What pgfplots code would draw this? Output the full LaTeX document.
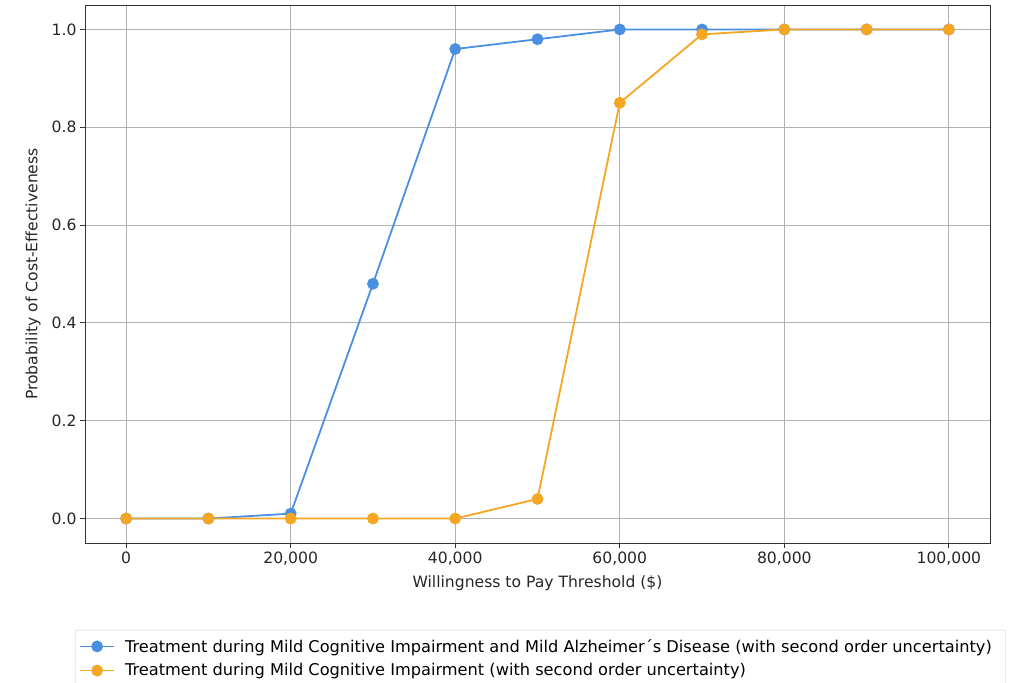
\documentclass[border=0pt]{standalone}
\usepackage{fontspec}
\setmainfont{DejaVu Sans}
\usepackage{pgfplots}
\pgfplotsset{compat=1.18}
\definecolor{cblue}{RGB}{74,144,226}
\definecolor{corange}{RGB}{245,166,35}
\begin{document}
\begin{tikzpicture}[x=1pt,y=1pt]
\useasboundingbox (0,0) rectangle (1021,683);
\begin{axis}[at={(85pt,140pt)}, anchor=south west, scale only axis,
  width=905pt, height=538pt,
  xmin=-5000, xmax=105000, ymin=-0.05, ymax=1.05,
  xtick={0,20000,40000,60000,80000,100000},
  ytick={0,0.2,0.4,0.6,0.8,1.0},
  scaled x ticks=false, scaled y ticks=false,
  xticklabel style={/pgf/number format/.cd, 1000 sep={,}, fixed},
  yticklabel style={/pgf/number format/.cd, fixed, fixed zerofill, precision=1},
  /pgf/number format/assume math mode=true,
  tick label style={font=\fontsize{15.6}{18}\selectfont, text=black!85},
  label style={font=\fontsize{15.6}{18}\selectfont, text=black!85},
  grid=major, major grid style={color=black!30, line width=0.9pt},
  tick align=outside, tick pos=left, major tick length=5pt,
  tick style={black!80, line width=0.9pt},
  axis line style={black!80, line width=0.9pt},
  xlabel={Willingness to Pay Threshold (\$)},
  ylabel={Probability of Cost-Effectiveness},
  xlabel style={at={(axis description cs:0.5,-0.0743)}, anchor=center},
  ylabel style={at={(axis description cs:-0.0575,0.5)}, anchor=center},
  legend style={at={(axis description cs:-0.011,-0.1617)}, anchor=north west,
    draw=black!20, rounded corners=2pt, font=\fontsize{16.2}{18}\selectfont,
    row sep=6pt, inner xsep=4pt, inner ysep=7pt,
    nodes={inner xsep=10pt}},
  legend cell align=left,
  legend image code/.code={\draw[line width=1.8pt, mark repeat=2,mark phase=2] plot coordinates {(-3pt,0pt) (14pt,0pt) (31pt,0pt)};},
]
\addplot[cblue, line width=1.8pt, mark=*, mark size=5pt, mark options={fill=cblue, draw=cblue}]
coordinates {(0,0) (10000,0) (20000,0.01) (30000,0.48) (40000,0.96) (50000,0.98) (60000,1.0) (70000,1.0) (80000,1.0) (90000,1.0) (100000,1.0)};
\addlegendentry{Treatment during Mild Cognitive Impairment and Mild Alzheimer´s Disease (with second order uncertainty)}
\addplot[corange, line width=1.8pt, mark=*, mark size=5pt, mark options={fill=corange, draw=corange}]
coordinates {(0,0) (10000,0) (20000,0) (30000,0) (40000,0) (50000,0.04) (60000,0.85) (70000,0.99) (80000,1.0) (90000,1.0) (100000,1.0)};
\addlegendentry{Treatment during Mild Cognitive Impairment (with second order uncertainty)}
\end{axis}
\end{tikzpicture}
\end{document}
